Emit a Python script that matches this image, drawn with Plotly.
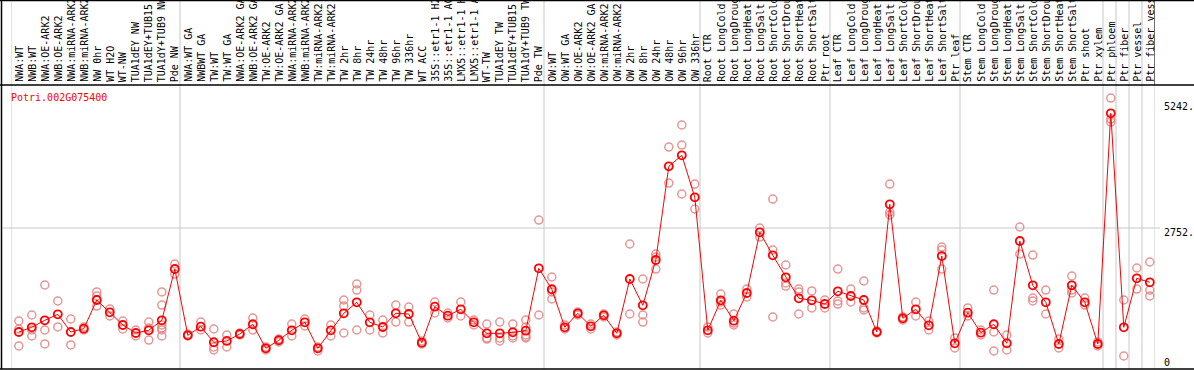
import plotly.graph_objects as go

categories = [
    "NWA:WT", "NWB:WT", "NWA:OE-ARK2", "NWB:OE-ARK2", "NWA:miRNA-ARK2", "NWB:miRNA-ARK2",
    "NW 0hr", "WT H2O", "WT-NW", "TUA1dEY NW", "TUA1dEY+TUB15 NW", "TUA1dY+TUB9 NW", "Pde NW",
    "NWA:WT GA", "NWBWT GA", "TW:WT", "TW:WT GA", "NWA:OE-ARK2 GA", "NWB:OE-ARK2 GA",
    "TW:OE-ARK2", "TW:OE-ARK2 GA", "NWA:miRNA-ARK2 GA", "NWB:miRNA-ARK2 GA", "TW:miRNA-ARK2",
    "TW:miRNA-ARK2 GA", "TW 2hr", "TW 8hr", "TW 24hr", "TW 48hr", "TW 96hr", "TW 336hr", "WT ACC",
    "35S::etr1-1 H2O", "35S::etr1-1 ACC", "LMX5::etr1-1 H2O", "LMX5::etr1-1 ACC", "WT-TW",
    "TUA1dEY TW", "TUA1dEY+TUB15 TW", "TUA1dY+TUB9 TW", "Pde TW",
    "OW:WT", "OW:WT GA", "OW:OE-ARK2", "OW:OE-ARK2 GA", "OW:miRNA-ARK2", "OW:miRNA-ARK2 GA",
    "OW 2hr", "OW 8hr", "OW 24hr", "OW 48hr", "OW 96hr", "OW 336hr",
    "Root CTR", "Root LongCold", "Root LongDrought", "Root LongHeat", "Root LongSalt",
    "Root ShortCold", "Root ShortDrought", "Root ShortHeat", "Root ShortSalt", "Ptr root",
    "Leaf CTR", "Leaf LongCold", "Leaf LongDrought", "Leaf LongHeat", "Leaf LongSalt",
    "Leaf ShortCold", "Leaf ShortDrought", "Leaf ShortHeat", "Leaf ShortSalt", "Ptr leaf",
    "Stem CTR", "Stem LongCold", "Stem LongDrought", "Stem LongHeat", "Stem LongSalt",
    "Stem ShortCold", "Stem ShortDrought", "Stem ShortHeat", "Stem ShortSalt", "Ptr shoot",
    "Ptr xylem", "Ptr phloem", "Ptr fiber", "Ptr vessel", "Ptr fiber vessel",
]

means = [
    678, 772, 911, 1031, 678, 744, 1316, 1071, 818, 658, 712, 911, 1934,
    612, 784, 473, 499, 638, 832, 353, 513, 712, 871, 353, 712, 1051, 1270, 871, 778,
    1051, 1037, 465, 1183, 1003, 1131, 871, 652, 652, 672, 704, 1948,
    1530, 772, 1051, 792, 1011, 652, 1735, 1210, 2114, 3982, 4202, 3364,
    712, 1310, 903, 1456, 2666, 2207, 1769, 1350, 1310, 1236,
    1490, 1396, 1316, 678, 3225, 951, 1131, 812, 2193, 453,
    1063, 664, 832, 453, 2493, 1609, 1270, 439, 1609, 1270, 439,
    5039, 772, 1749, 1669,
]

replicates = [
    [897, 738, 399], [1017, 718, 598], [1615, 718, 439], [1296, 778], [937, 419],
    [778, 718], [1476, 1396, 1196], [1137, 997], [897, 738], [718, 598],
    [877, 758, 518], [1476, 1216, 818, 758, 718, 598], [2034, 1834],
    [638, 598], [877, 718], [738, 379, 319], [618, 379], [658, 618], [957, 718],
    [379, 319], [538, 479], [837, 598], [937, 798], [379, 299], [818, 598],
    [1316, 1196, 658], [1635, 1515, 718], [1017, 718], [917, 658], [1216, 877],
    [1176, 877], [499, 439], [1276, 1057], [1057, 957], [1276, 997], [917, 818],
    [837, 558, 538], [877, 558, 499], [837, 598, 558], [917, 778, 618, 578, 558],
    [2911, 1017],
    [1775, 1476, 1336], [818, 738], [1077, 1017], [837, 738], [1037, 977], [678, 618],
    [2433, 1037], [1735, 1017, 877], [2233, 2173, 1934], [4367, 3649],
    [4806, 4407, 3430], [3629, 3131],
    [778, 658], [1436, 1276, 1216], [1037, 857, 818], [1535, 1376], [2752, 2572],
    [3330, 2313, 977], [2014, 1655, 1595], [1535, 1476, 1037], [1496, 1157], [1316, 1157],
    [1934, 1296, 1236], [1535, 1276], [1695, 1157, 1117], [698, 658], [3629, 3071, 3011],
    [977, 917], [1276, 997], [897, 718], [2373, 2313, 1934], [558, 359],
    [1157, 997], [718, 618], [1515, 678, 299], [618, 319], [2772, 2233],
    [2213, 1356, 1296], [1515, 1037], [538, 359], [1795, 1515, 1456], [1356, 1216],
    [479, 399], [5344, 4925, 4865], [1316, 199], [1954, 1535], [2074, 1515, 1396],
]

gene_id = "Potri.002G075400"
y_tick_values = [5242, 2752, 0]
y_tick_labels = ["5242.", "2752.", "0"]
group_starts = [0, 13, 41, 53, 63, 73, 84, 85, 86, 87, 88]

W, H = 1194, 370
FONT = "DejaVu Sans Mono"


def px(x):
    return x / W


def py(y):
    return 1 - y / H


xs = list(range(len(categories)))
rep_x = [i for i, reps in enumerate(replicates) for _ in reps]
rep_y = [v for reps in replicates for v in reps]

fig = go.Figure()
fig.add_trace(go.Scatter(
    x=rep_x, y=rep_y, mode="markers",
    marker=dict(symbol="circle-open", size=8, color="rgba(228,130,130,0.85)",
                line=dict(width=1.5)),
    hoverinfo="skip", showlegend=False,
))
fig.add_trace(go.Scatter(
    x=xs, y=means, mode="lines+markers",
    line=dict(color="#ff0000", width=1),
    marker=dict(symbol="circle-open", size=8, color="#ff0000", line=dict(width=1.8)),
    showlegend=False,
))

shapes = []
shapes.append(dict(type="line", xref="paper", yref="y", x0=px(1), x1=px(1160),
                   y0=y_tick_values[1], y1=y_tick_values[1],
                   line=dict(color="#c8c8c8", width=1), layer="below"))
for b in group_starts:
    shapes.append(dict(type="line", xref="x", yref="paper", x0=b - 0.6, x1=b - 0.6,
                       y0=py(369), y1=1, line=dict(color="#c8c8c8", width=1), layer="below"))
blk = dict(color="black", width=1.5)
shapes.append(dict(type="line", xref="paper", yref="paper", x0=0, x1=1, y0=py(0.5), y1=py(0.5), line=blk))
shapes.append(dict(type="line", xref="paper", yref="paper", x0=0, x1=1, y0=py(85), y1=py(85), line=blk))
shapes.append(dict(type="line", xref="paper", yref="paper", x0=0, x1=1, y0=py(369), y1=py(369), line=blk))
shapes.append(dict(type="line", xref="paper", yref="paper", x0=px(1.5), x1=px(1.5), y0=py(0), y1=py(369), line=blk))
shapes.append(dict(type="line", xref="x", yref="paper", x0=group_starts[-1] - 0.6, x1=group_starts[-1] - 0.6,
                   y0=py(85), y1=1, line=dict(color="black", width=1)))

annotations = []
for i, c in enumerate(categories):
    annotations.append(dict(x=i, y=py(84), xref="x", yref="paper", text=c, textangle=-90,
                            xanchor="center", yanchor="bottom", showarrow=False,
                            font=dict(family=FONT, size=10, color="black")))
annotations.append(dict(x=px(9), y=py(97), xref="paper", yref="paper", text=gene_id,
                        xanchor="left", yanchor="middle", showarrow=False,
                        font=dict(family=FONT, size=10, color="#ff0000")))
for v, lab, ypix in zip(y_tick_values, y_tick_labels, [107, 232, 362]):
    annotations.append(dict(x=px(1162), y=py(ypix), xref="paper", yref="paper", text=lab,
                            xanchor="left", yanchor="middle", showarrow=False,
                            font=dict(family=FONT, size=10, color="black")))

fig.update_layout(
    width=W, height=H, autosize=False,
    margin=dict(l=0, r=0, t=0, b=0),
    paper_bgcolor="white", plot_bgcolor="white",
    xaxis=dict(domain=[px(11), px(1155)], range=[-0.6, len(categories) - 0.6],
               showgrid=False, zeroline=False, showticklabels=False, showline=False),
    yaxis=dict(domain=[py(369), py(86)], range=[-60, 5584],
               showgrid=False, zeroline=False, showticklabels=False, showline=False),
    shapes=shapes, annotations=annotations,
)

fig.write_html("out.html", config={"displayModeBar": False},
               post_script="document.body.style.margin='0';document.body.style.overflow='hidden';")
